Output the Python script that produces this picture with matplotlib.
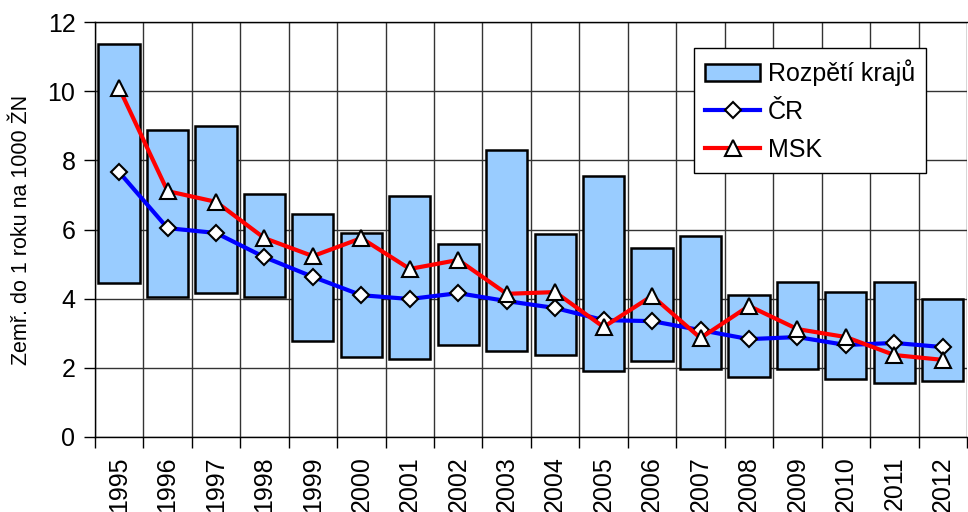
import matplotlib.pyplot as plt
import numpy as np
from matplotlib.patches import Patch
from matplotlib.lines import Line2D

plt.rcParams['font.family'] = ['Liberation Sans', 'DejaVu Sans']

years = ['1995', '1996', '1997', '1998', '1999', '2000', '2001', '2002', '2003',
         '2004', '2005', '2006', '2007', '2008', '2009', '2010', '2011', '2012']
kraje_min = [4.45, 4.05, 4.16, 4.05, 2.78, 2.31, 2.26, 2.66, 2.49,
             2.37, 1.91, 2.20, 1.97, 1.74, 1.97, 1.68, 1.56, 1.62]
kraje_max = [11.36, 8.88, 9.00, 7.03, 6.45, 5.90, 6.97, 5.58, 8.30,
             5.87, 7.55, 5.47, 5.81, 4.10, 4.48, 4.19, 4.48, 3.99]
cr = [7.66, 6.04, 5.90, 5.20, 4.63, 4.10, 3.99, 4.16, 3.93,
      3.73, 3.38, 3.35, 3.09, 2.83, 2.89, 2.66, 2.72, 2.60]
msk = [10.09, 7.11, 6.80, 5.75, 5.23, 5.75, 4.86, 5.12, 4.14,
       4.19, 3.18, 4.08, 2.86, 3.79, 3.12, 2.89, 2.37, 2.23]

x = np.arange(len(years))
bar_color = '#99CCFF'

fig = plt.figure(figsize=(9.68, 5.12), dpi=100)
ax = fig.add_axes([0.098, 0.1465, 0.901, 0.8105])

heights = np.array(kraje_max) - np.array(kraje_min)
ax.bar(x, heights, bottom=kraje_min, width=0.85, color=bar_color,
       edgecolor='black', linewidth=1.8, zorder=2)
ax.plot(x, cr, color='#0000FF', linewidth=3, marker='D', markersize=8,
        markerfacecolor='white', markeredgecolor='black', markeredgewidth=1.5, zorder=3)
ax.plot(x, msk, color='#FF0000', linewidth=3, marker='^', markersize=11,
        markerfacecolor='white', markeredgecolor='black', markeredgewidth=1.5, zorder=4)

ax.set_xlim(-0.5, len(years) - 0.5)
ax.set_ylim(0, 12)
ax.set_yticks(range(0, 13, 2))
ax.set_xticks(x)
ax.set_xticklabels(years, rotation=90, fontsize=18)
ax.set_xticks(np.arange(-0.5, len(years), 1), minor=True)
ax.tick_params(axis='x', which='major', length=0, pad=14)
ax.tick_params(axis='x', which='minor', length=8, width=1, direction='out')
ax.tick_params(axis='y', labelsize=18, length=8, width=1, pad=6)
ax.grid(True, which='minor', axis='x', color='#333333', linewidth=1, zorder=0)
ax.grid(True, which='major', axis='y', color='#333333', linewidth=1, zorder=0)
ax.set_axisbelow(True)
for s in ax.spines.values():
    s.set_linewidth(1)
ax.spines['right'].set_visible(False)

ax.set_ylabel('Zemř. do 1 roku na 1000 ŽN', fontsize=15.5, labelpad=11)

handles = [Patch(facecolor=bar_color, edgecolor='black', linewidth=1.8),
           Line2D([], [], color='#0000FF', linewidth=3, marker='D', markersize=8,
                  markerfacecolor='white', markeredgecolor='black', markeredgewidth=1.5),
           Line2D([], [], color='#FF0000', linewidth=3, marker='^', markersize=11,
                  markerfacecolor='white', markeredgecolor='black', markeredgewidth=1.5)]
leg = ax.legend(handles, ['Rozpětí krajů', 'ČR', 'MSK'], loc='upper left',
                bbox_to_anchor=(0.687, 0.937), borderaxespad=0, fontsize=18,
                frameon=True, fancybox=False, edgecolor='black', framealpha=1,
                handlelength=2.2, handletextpad=0.3, labelspacing=0.55, borderpad=0.45)
leg.get_frame().set_linewidth(1)

fig.savefig('out.png', dpi=100)
